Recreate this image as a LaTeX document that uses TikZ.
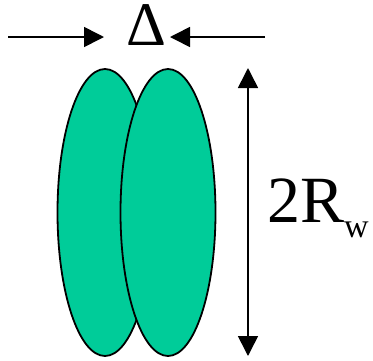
\documentclass[tikz,border=0pt]{standalone}
\usepackage{fontspec}
\setmainfont{Liberation Serif}
\usetikzlibrary{shapes.geometric,arrows.meta}
\definecolor{lensgreen}{RGB}{0,204,153}
\begin{document}
\begin{tikzpicture}[x=1pt,y=-1pt,
  lens/.style={ellipse, draw=black, line width=1.8pt, fill=lensgreen,
    minimum width=95pt, minimum height=287pt, inner sep=0pt, outer sep=0pt},
  dimline/.style={line width=1.6pt, -{Triangle[length=20pt,width=20pt]}},
  dimboth/.style={line width=1.6pt, {Triangle[length=20pt,width=20pt]}-{Triangle[length=20pt,width=20pt]}},
  bigtext/.style={inner sep=0pt, font=\fontsize{66}{70}\selectfont}]
\useasboundingbox (0,0) rectangle (373,360);
\node[lens] (left) at (105,212.5) {};
\node[lens] (right) at (168,212.5) {};
\coordinate (la) at (8,37);
\coordinate (lb) at (104,37);
\coordinate (ra) at (265,37);
\coordinate (rb) at (170,37);
\draw[dimline] (la) -- (lb);
\draw[dimline] (ra) -- (rb);
\node[bigtext, anchor=base, font=\fontsize{62}{66}\selectfont,
  text height=41pt, text depth=0pt] (delta) at (146,45) {Δ};
\coordinate (vt) at (248,68);
\coordinate (vb) at (248,356);
\draw[dimboth] (vt) -- (vb);
\node[bigtext, anchor=base west] (lbl) at (267,222) {2R\raisebox{-15pt}{\fontsize{34}{36}\selectfont w}};
\end{tikzpicture}
\end{document}
